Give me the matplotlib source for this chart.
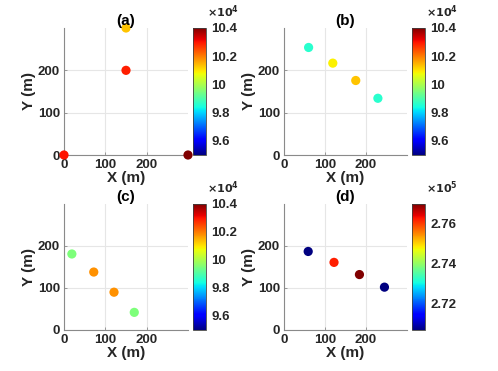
import numpy as np
import matplotlib
matplotlib.use("Agg")
from matplotlib import pyplot as plt
from matplotlib.ticker import FuncFormatter

plt.rcParams['font.family'] = ['Liberation Sans', 'DejaVu Sans']
plt.rcParams['font.weight'] = 'bold'

TXT = '#262626'

# panel data: x (m), y (m), colour value
xA = [0, 150, 150, 300]
yA = [0, 200, 300, 0]
cA = [1.030e5, 1.029e5, 1.013e5, 1.040e5]

xB = [60, 119, 175, 229]
yB = [254, 217, 176, 134]
cB = [0.986e5, 1.009e5, 1.013e5, 0.986e5]

xC = [19, 72, 121, 170]
yC = [181, 138, 90, 42]
cC = [0.995e5, 1.018e5, 1.018e5, 0.995e5]

xD = [59, 122, 184, 245]
yD = [187, 161, 132, 102]
cD = [2.7065e5, 2.762e5, 2.7697e5, 2.7065e5]

titles = ['(a)', '(b)', '(c)', '(d)']
climsAll = [(0.95e5, 1.04e5), (0.95e5, 1.04e5), (0.95e5, 1.04e5), (2.7065e5, 2.7697e5)]
cbTicks = [[0.96e5, 0.98e5, 1.0e5, 1.02e5, 1.04e5]] * 3 + [[2.72e5, 2.74e5, 2.76e5]]
scales = [1e4, 1e4, 1e4, 1e5]
expLabels = [r'$\times10^4$', r'$\times10^4$', r'$\times10^4$', r'$\times10^5$']

W, H = 498, 371
# pixel boxes (left, top, right, bottom) for axes and colorbars
axBoxes = [(64, 28, 188, 155), (284, 28, 407, 155),
           (64, 204, 188, 330), (284, 204, 407, 330)]
cbBoxes = [(193, 28, 206, 155), (412, 28, 425, 155),
           (193, 204, 206, 330), (412, 204, 425, 330)]


def toFig(box):
    l, t, r, b = box
    return [l / W, 1 - b / H, (r - l) / W, (b - t) / H]


fig = plt.figure(figsize=(W / 100, H / 100), dpi=100)

data = [(xA, yA, cA), (xB, yB, cB), (xC, yC, cC), (xD, yD, cD)]
for i, (xs, ys, cs) in enumerate(data):
    ax = fig.add_axes(toFig(axBoxes[i]))
    vmin, vmax = climsAll[i]
    sc = ax.scatter(xs, ys, c=cs, cmap='jet', vmin=vmin, vmax=vmax,
                    s=44, clip_on=False, zorder=3, linewidths=0)
    ax.set_xlim(0, 300)
    ax.set_ylim(0, 300)
    ax.set_xticks([0, 100, 200])
    ax.set_yticks([0, 100, 200])
    ax.grid(True, color='#e6e6e6', linewidth=0.8)
    ax.set_axisbelow(True)
    for side in ['top', 'right']:
        ax.spines[side].set_visible(False)
    for side in ['left', 'bottom']:
        ax.spines[side].set_color('#8a8a8a')
        ax.spines[side].set_linewidth(0.8)
    ax.tick_params(direction='in', length=2.5, width=0.6, color='#8a8a8a',
                   labelsize=9.5, labelcolor=TXT, pad=3)
    for lab in ax.get_xticklabels() + ax.get_yticklabels():
        lab.set_fontweight('bold')
    ax.set_xlabel('X (m)', fontsize=11, fontweight='bold', color=TXT, labelpad=0)
    ax.set_ylabel('Y (m)', fontsize=11, fontweight='bold', color=TXT, labelpad=1)
    ax.set_title(titles[i], fontsize=11, fontweight='bold', color='black', pad=1)

    cax = fig.add_axes(toFig(cbBoxes[i]))
    cb = fig.colorbar(sc, cax=cax)
    cb.set_ticks(cbTicks[i])
    sc_ = scales[i]
    cb.ax.yaxis.set_major_formatter(FuncFormatter(lambda v, p, s=sc_: f"{v / s:g}"))
    cb.ax.tick_params(direction='in', length=0, labelsize=9.5, labelcolor=TXT, pad=4)
    for lab in cb.ax.get_yticklabels():
        lab.set_fontweight('bold')
    cb.outline.set_edgecolor('#404040')
    cb.outline.set_linewidth(0.6)
    cax.text(1.05, 1.06, expLabels[i], transform=cax.transAxes, fontsize=8,
             color=TXT, ha='left', va='bottom')

fig.savefig('out.png', dpi=100)
